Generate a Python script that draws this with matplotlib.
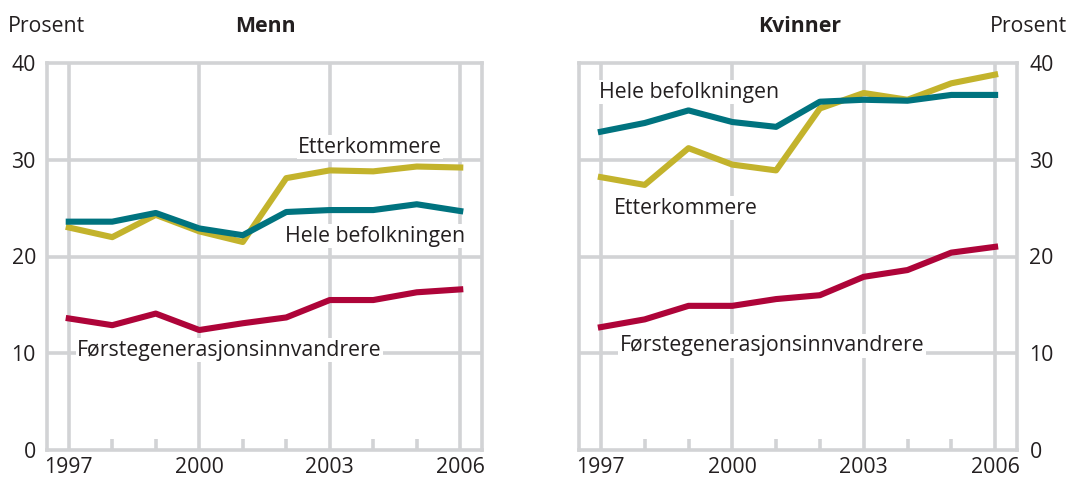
import matplotlib
matplotlib.use("Agg")
import matplotlib.pyplot as plt
import numpy as np

plt.rcParams['font.family'] = ['Open Sans', 'DejaVu Sans']

years = list(range(1997, 2007))

# Menn
menn_etterkommere = [23.0, 22.0, 24.3, 22.6, 21.5, 28.1, 28.9, 28.8, 29.3, 29.2]
menn_hele = [23.6, 23.6, 24.5, 22.9, 22.2, 24.6, 24.8, 24.8, 25.4, 24.7]
menn_forste = [13.6, 12.9, 14.1, 12.4, 13.1, 13.7, 15.5, 15.5, 16.3, 16.6]

# Kvinner
kvinner_hele = [32.9, 33.8, 35.1, 33.9, 33.4, 36.0, 36.2, 36.1, 36.7, 36.7]
kvinner_etterkommere = [28.2, 27.4, 31.2, 29.5, 28.9, 35.3, 36.9, 36.2, 37.9, 38.8]
kvinner_forste = [12.7, 13.5, 14.9, 14.9, 15.6, 16.0, 17.9, 18.6, 20.4, 21.0]

label_years = [1997, 2000, 2003, 2006]
yticks = [0, 10, 20, 30, 40]

TEAL = '#00737f'
YELLOW = '#c3b32c'
RED = '#ae0439'
GRID = '#d2d3d5'
TXT = '#231f20'
FS = 15.3
GW = 2.6

fig = plt.figure(figsize=(10.74, 4.8), dpi=100)
ax1 = fig.add_axes([47 / 1074, 30 / 480, 435 / 1074, 387 / 480])
ax2 = fig.add_axes([579 / 1074, 30 / 480, 438 / 1074, 387 / 480])


def style(ax, right=False):
    ax.set_xlim(1996.5, 2006.5)
    ax.set_ylim(0, 40)
    for s in ax.spines.values():
        s.set_color(GRID)
        s.set_linewidth(GW)
    ax.set_xticks(label_years)
    ax.set_xticks([y for y in years if y not in label_years], minor=True)
    ax.set_yticks(yticks)
    ax.tick_params(axis='x', which='major', length=0, pad=5, labelsize=FS, labelcolor=TXT)
    ax.tick_params(axis='x', which='minor', direction='in', length=8, width=GW, color=GRID)
    ax.tick_params(axis='y', length=0, pad=8, labelsize=FS, labelcolor=TXT)
    if right:
        ax.yaxis.tick_right()
        ax.tick_params(axis='y', length=0, pad=9)
    for yv in yticks[1:-1]:
        ax.axhline(yv, color=GRID, lw=GW, zorder=1)
    for xv in label_years:
        ax.axvline(xv, color=GRID, lw=GW, zorder=1)


style(ax1)
style(ax2, right=True)

lw = 4.4
ax1.plot(years, menn_etterkommere, color=YELLOW, lw=lw, zorder=3)
ax1.plot(years, menn_hele, color=TEAL, lw=lw, zorder=4)
ax1.plot(years, menn_forste, color=RED, lw=lw, zorder=3)

ax2.plot(years, kvinner_etterkommere, color=YELLOW, lw=lw, zorder=3)
ax2.plot(years, kvinner_hele, color=TEAL, lw=lw, zorder=4)
ax2.plot(years, kvinner_forste, color=RED, lw=lw, zorder=3)

box = dict(facecolor='white', edgecolor='none', pad=1)
kw = dict(fontsize=FS, color=TXT, va='center', ha='left', zorder=2, bbox=box)
ax1.text(2002.27, 31.3, 'Etterkommere', **kw)
ax1.text(2001.97, 22.1, 'Hele befolkningen', **kw)
ax1.text(1997.19, 10.3, 'Førstegenerasjonsinnvandrere', **kw)

ax2.text(1996.95, 37.0, 'Hele befolkningen', **kw)
ax2.text(1997.3, 25.0, 'Etterkommere', **kw)
ax2.text(1997.43, 10.75, 'Førstegenerasjonsinnvandrere', **kw)

fig.text(8 / 1074, 1 - 27 / 480, 'Prosent', fontsize=FS, color=TXT, ha='left', va='center')
fig.text(1067 / 1074, 1 - 27 / 480, 'Prosent', fontsize=FS, color=TXT, ha='right', va='center')
fig.text(265 / 1074, 1 - 27 / 480, 'Menn', fontsize=FS, color=TXT, ha='center', va='center', fontweight='bold')
fig.text(800 / 1074, 1 - 27 / 480, 'Kvinner', fontsize=FS, color=TXT, ha='center', va='center', fontweight='bold')

fig.savefig('out.png', dpi=100)
